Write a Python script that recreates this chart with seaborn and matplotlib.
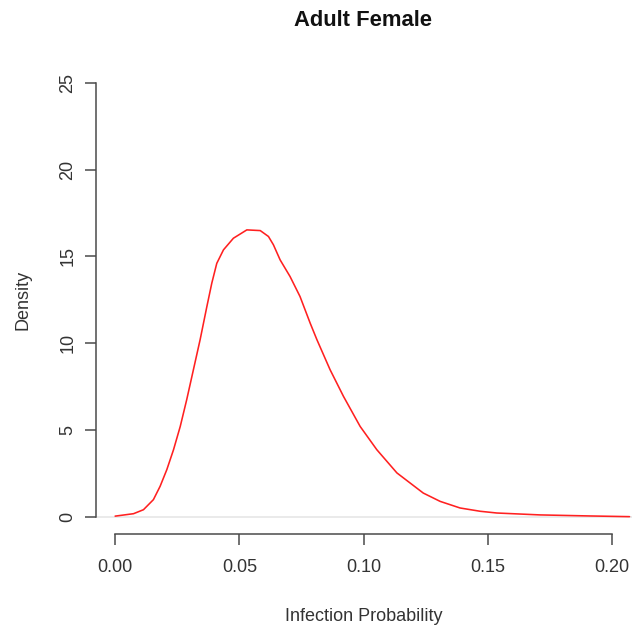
import matplotlib
matplotlib.use("Agg")
import matplotlib.pyplot as plt
import seaborn as sns
import pandas as pd

title = "Adult Female"
x_label = "Infection Probability"
y_label = "Density"

prob = [0.0, 0.0074, 0.0114, 0.0154, 0.0181, 0.0208, 0.0235, 0.0262, 0.0288,
        0.0315, 0.0342, 0.0369, 0.0389, 0.0409, 0.0436, 0.0476, 0.053, 0.0584,
        0.0617, 0.0637, 0.0664, 0.0704, 0.0744, 0.0785, 0.0812, 0.0865, 0.0919,
        0.0986, 0.1053, 0.1134, 0.1187, 0.124, 0.1308, 0.1388, 0.1469, 0.1536,
        0.171, 0.191, 0.207]
density = [0.03, 0.17, 0.40, 0.98, 1.75, 2.71, 3.86, 5.2, 6.74,
           8.47, 10.2, 12.1, 13.46, 14.6, 15.38, 16.05, 16.53, 16.49,
           16.15, 15.67, 14.8, 13.84, 12.69, 11.15, 10.2, 8.47, 6.93,
           5.2, 3.86, 2.52, 1.94, 1.36, 0.88, 0.5, 0.31, 0.21,
           0.1, 0.04, 0.0]

x_ticks = [0.00, 0.05, 0.10, 0.15, 0.20]
x_tick_labels = ["0.00", "0.05", "0.10", "0.15", "0.20"]
y_ticks = [0, 5, 10, 15, 20, 25]

sns.set_style("white")
plt.rcParams["font.family"] = ["Liberation Sans", "DejaVu Sans"]

W, H = 634, 630
fig = plt.figure(figsize=(W / 100, H / 100), dpi=100)
ax = fig.add_axes([96 / W, 1 - 534 / H, (632 - 96) / W, (534 - 65.6) / H])

df = pd.DataFrame({"x": prob, "y": density})
ax.axhline(0, color="#e6e6e6", lw=1.2, zorder=1)
sns.lineplot(data=df, x="x", y="y", sort=False, color="#ff2020", lw=1.15, ax=ax, zorder=2)

ax.set_xlim(-0.0077, 0.208)
ax.set_ylim(-1, 26)

axis_col = "#4a4a4a"
text_col = "#333333"
for s in ["top", "right"]:
    ax.spines[s].set_visible(False)
ax.spines["left"].set_bounds(0, 25)
ax.spines["bottom"].set_bounds(0, 0.2)
for s in ["left", "bottom"]:
    ax.spines[s].set_color(axis_col)
    ax.spines[s].set_linewidth(1.1)

ax.set_xticks(x_ticks)
ax.set_xticklabels(x_tick_labels)
ax.set_yticks(y_ticks)
ax.set_yticklabels([str(v) for v in y_ticks], rotation=90, va="center")
ax.tick_params(axis="both", direction="out", length=8, width=1.1, color=axis_col,
               labelsize=13, labelcolor=text_col, left=True, bottom=True)
ax.tick_params(axis="x", pad=10)
ax.tick_params(axis="y", pad=6)

ax.set_xlabel(x_label, fontsize=13, color=text_col, labelpad=23)
ax.set_ylabel(y_label, fontsize=13, color=text_col, labelpad=20)
fig.text((115 + 612) / 2 / W, 1 - 20 / H, title, ha="center", va="center",
         fontsize=15.8, fontweight="bold", color="#111111")

fig.savefig("out.png", dpi=100)
